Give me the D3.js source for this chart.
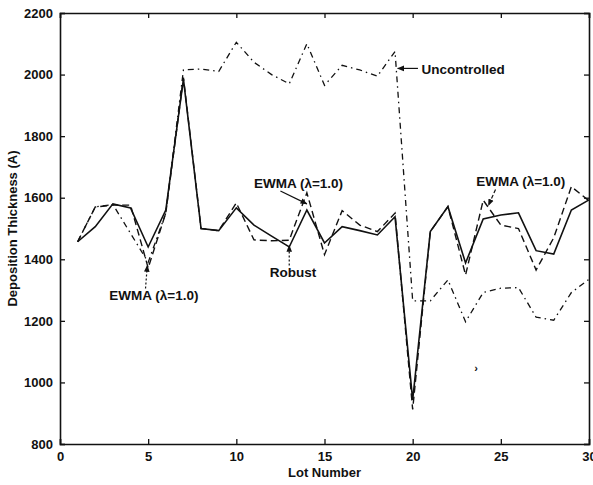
<!DOCTYPE html>
<html>
<head>
<meta charset="utf-8">
<script src="https://cdn.jsdelivr.net/npm/d3@7"></script>
<style>
  body { margin: 0; background: #fff; overflow: hidden; }
  svg { display: block; }
  svg text { font-family: "Liberation Sans", Arial, sans-serif; font-weight: bold; fill: #111; }
</style>
</head>
<body>
<div id="chart"></div>
<script>
// lot numbers and the three runs
var lots = d3.range(1, 31);
var robust = [1457, 1506, 1580, 1567, 1440, 1560, 1985, 1500, 1493, 1567,
              1511, 1475, 1440, 1560, 1453, 1506, 1493, 1479, 1538, 943,
              1490, 1571, 1388, 1531, 1544, 1551, 1428, 1417, 1560, 1593];
var ewma = [1457, 1570, 1576, 1576, 1372, 1550, 1990, 1500, 1493, 1583,
            1463, 1460, 1462, 1616, 1415, 1558, 1511, 1490, 1550, 912,
            1490, 1571, 1349, 1592, 1511, 1500, 1365, 1470, 1636, 1590];
var uncontrolled = [1457, 1570, 1578, 1484, 1390, 1550, 2015, 2018, 2010, 2105,
                    2040, 2000, 1970, 2100, 1965, 2030, 2015, 1995, 2075, 1265,
                    1265, 1333, 1197, 1292, 1306, 1308, 1212, 1202, 1292, 1335];
var xTicks = [0, 5, 10, 15, 20, 25, 30];
var yTicks = [800, 1000, 1200, 1400, 1600, 1800, 2000, 2200];

var width = 593, height = 485,
    margin = {top: 13, right: 4, bottom: 41, left: 60},
    innerWidth = width - margin.left - margin.right,
    innerHeight = height - margin.top - margin.bottom;

var svg = d3.select("#chart").append("svg")
    .attr("width", width)
    .attr("height", height);

svg.append("defs").append("marker")
    .attr("id", "head")
    .attr("viewBox", "0 0 10 10")
    .attr("refX", 9).attr("refY", 5)
    .attr("markerWidth", 7).attr("markerHeight", 7)
    .attr("markerUnits", "userSpaceOnUse")
    .attr("orient", "auto")
  .append("path")
    .attr("d", "M0,1L10,5L0,9Z")
    .attr("fill", "#111");

var g = svg.append("g")
    .attr("transform", "translate(" + margin.left + "," + margin.top + ")");

var x = d3.scaleLinear().domain([0, 30]).range([0, innerWidth]);
var y = d3.scaleLinear().domain([800, 2200]).range([innerHeight, 0]);

// axes, ticks pointing inward like matlab
g.append("g").attr("class", "x axis")
    .attr("transform", "translate(0," + innerHeight + ")")
    .call(d3.axisBottom(x).tickValues(xTicks).tickFormat(d3.format("d")).tickSize(-5).tickPadding(8));
g.append("g").attr("class", "y axis")
    .call(d3.axisLeft(y).tickValues(yTicks).tickFormat(d3.format("d")).tickSize(-5).tickPadding(7));
g.append("g").attr("class", "x2 axis")
    .call(d3.axisTop(x).tickValues(xTicks).tickSize(-5));
g.append("g").attr("class", "y2 axis")
    .attr("transform", "translate(" + innerWidth + ",0)")
    .call(d3.axisRight(y).tickValues(yTicks).tickSize(-5));
// the top and right frame carry no labels
g.selectAll(".x2 text, .y2 text").remove();

g.selectAll(".axis path").attr("stroke", "#111").attr("stroke-width", 1.6);
g.selectAll(".axis line").attr("stroke", "#111").attr("stroke-width", 1.3);
g.selectAll(".axis text").style("font-size", "13px").attr("fill", "#111");

var line = d3.line()
    .x(function(d, i) { return x(lots[i]); })
    .y(function(d) { return y(d); });

g.append("path").datum(uncontrolled)
    .attr("d", line)
    .attr("fill", "none").attr("stroke", "#111").attr("stroke-width", 1.3)
    .attr("stroke-dasharray", "6,4,1.5,4");
g.append("path").datum(ewma)
    .attr("d", line)
    .attr("fill", "none").attr("stroke", "#111").attr("stroke-width", 1.4)
    .attr("stroke-dasharray", "7,4");
g.append("path").datum(robust)
    .attr("d", line)
    .attr("fill", "none").attr("stroke", "#111").attr("stroke-width", 1.6);

// annotations: label position, arrow start and end in data units
var notes = [
  {text: "EWMA (\u03bb=1.0)", tx: 2.8, ty: 1282, x1: 4.85, y1: 1305, x2: 4.95, y2: 1380, dash: "2,2"},
  {text: "Robust", tx: 11.9, ty: 1358, x1: 13.0, y1: 1380, x2: 13.0, y2: 1445, dash: "2,2"},
  {text: "EWMA (\u03bb=1.0)", tx: 11.0, ty: 1647, x1: 12.5, y1: 1622, x2: 14.0, y2: 1580, dash: null},
  {text: "EWMA (\u03bb=1.0)", tx: 23.6, ty: 1653, x1: 24.7, y1: 1627, x2: 24.3, y2: 1575, dash: "4,2"},
  {text: "Uncontrolled", tx: 20.5, ty: 2016, x1: 20.3, y1: 2020, x2: 19.15, y2: 2020, dash: null}
];

g.selectAll(".note-line").data(notes).enter().append("line")
    .attr("class", "note-line")
    .attr("x1", function(d) { return x(d.x1); })
    .attr("y1", function(d) { return y(d.y1); })
    .attr("x2", function(d) { return x(d.x2); })
    .attr("y2", function(d) { return y(d.y2); })
    .attr("stroke", "#111").attr("stroke-width", 1.2)
    .attr("stroke-dasharray", function(d) { return d.dash; })
    .attr("marker-end", "url(#head)");

g.selectAll(".note").data(notes).enter().append("text")
    .attr("class", "note")
    .attr("x", function(d) { return x(d.tx); })
    .attr("y", function(d) { return y(d.ty); })
    .attr("dy", "0.35em")
    .style("font-size", "13.5px")
    .text(function(d) { return d.text; });

// stray mark in the scan
g.append("text")
    .attr("x", x(23.6)).attr("y", y(1048))
    .attr("dy", "0.35em")
    .attr("text-anchor", "middle")
    .style("font-size", "11px")
    .text("\u203a");

// axis titles
svg.append("text")
    .attr("x", margin.left + innerWidth / 2)
    .attr("y", height - 8)
    .attr("text-anchor", "middle")
    .style("font-size", "13px")
    .text("Lot Number");

svg.append("text")
    .attr("transform", "translate(17," + (margin.top + innerHeight / 2) + ") rotate(-90)")
    .attr("text-anchor", "middle")
    .style("font-size", "13px")
    .text("Deposition Thickness (A)");
</script>
</body>
</html>
